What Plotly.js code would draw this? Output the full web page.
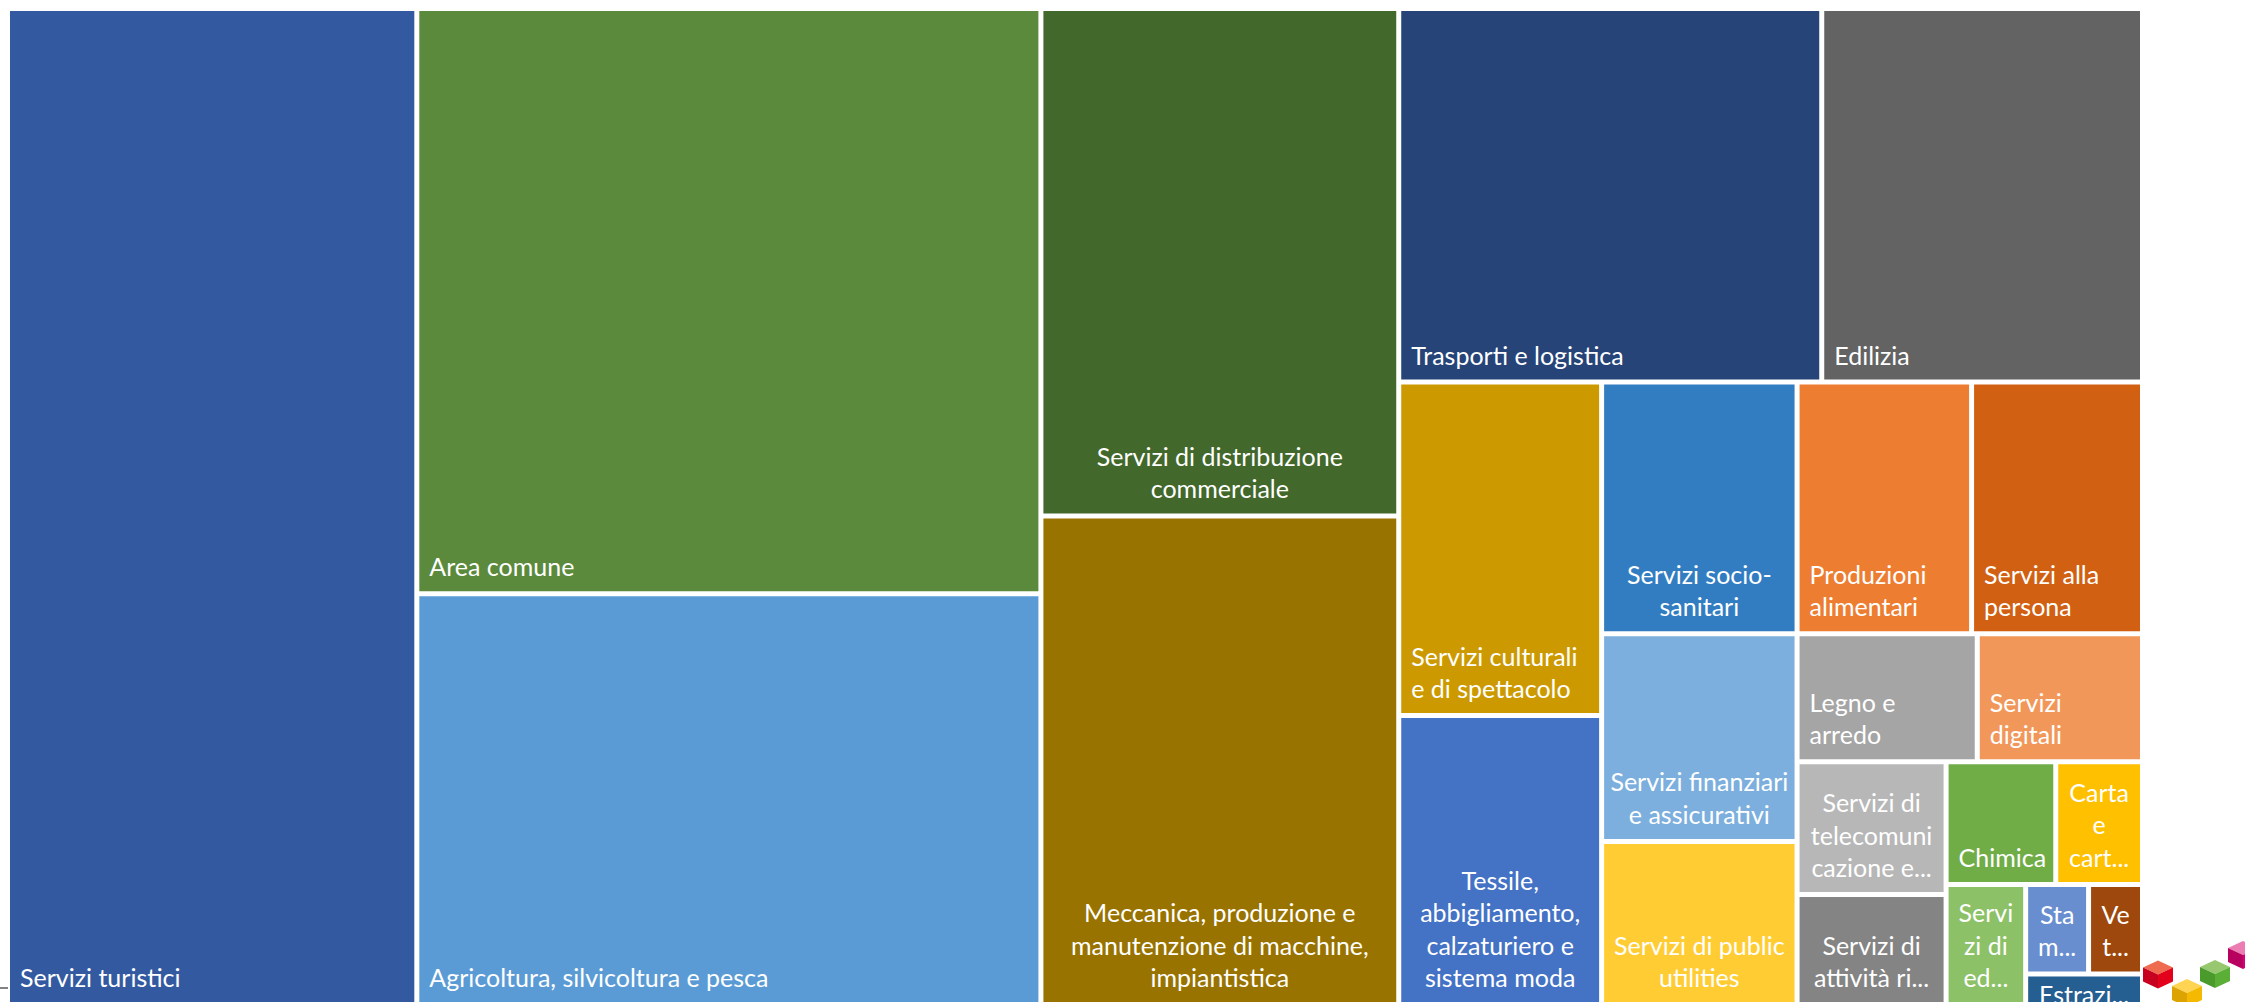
<!DOCTYPE html>
<html>
<head>
<meta charset="utf-8">
<script src="https://cdn.plot.ly/plotly-3.0.1.min.js"></script>
<style>html,body{margin:0;padding:0;background:#fff;overflow:hidden}</style>
</head>
<body>
<div id="chart" style="width:2245px;height:1002px"></div>
<script>
// ---- data: sectors (leaves) ----
const sectorIds = ['tur','area','agri','distr','mecc','trasp','edil','cult','tess','socio','fin','pub',
  'prod','pers','legno','dig','tele','att','chim','carta','ed','sta','ve','estr'];
const sectorLabels = [
  'Servizi turistici',
  'Area comune',
  'Agricoltura, silvicoltura e pesca',
  'Servizi di distribuzione<br>commerciale',
  'Meccanica, produzione e<br>manutenzione di macchine,<br>impiantistica',
  'Trasporti e logistica',
  'Edilizia',
  'Servizi culturali<br>e di spettacolo',
  'Tessile,<br>abbigliamento,<br>calzaturiero e<br>sistema moda',
  'Servizi socio-<br>sanitari',
  'Servizi finanziari<br>e assicurativi',
  'Servizi di public<br>utilities',
  'Produzioni<br>alimentari',
  'Servizi alla<br>persona',
  'Legno e<br>arredo',
  'Servizi<br>digitali',
  'Servizi di<br>telecomuni<br>cazione e...',
  'Servizi di<br>attività ri...',
  'Chimica',
  'Carta<br>e<br>cart...',
  'Servi<br>zi di<br>ed...',
  'Sta<br>m...',
  'Ve<br>t...',
  'Estrazi...'
];
const sectorValues = [405.5, 363.3, 255.0, 180.6, 173.9, 157.2, 119.2, 67.3, 58.3, 48.9, 40.4, 31.7,
  43.7, 42.8, 22.9, 21.0, 19.7, 16.3, 13.4, 10.6, 9.5, 5.6, 4.8, 3.55];
// grouping of the tiles (tiling structure of the original picture)
const sectorGroups = ['g1','g2','g2','g3','g3','g4a','g4a','g5','g5','g6','g6','g6',
  'g7a','g7a','g7b','g7b','g8','g8','g9a','g9a','g9c','g10a','g10a','g10b'];
const groupIds =     ['root','g1','g2','g3','g4','g4a','g4b','g5','g6','g7','g7a','g7b','g7c','g8','g9','g9a','g9b','g9c','g10','g10a','g10b'];
const groupParents = ['',    'root','root','root','root','g4','g4','g4b','g4b','g4b','g7','g7','g7','g7c','g7c','g9','g9','g9b','g9b','g10','g10'];

// ---- styles ----
const sectorColors = ['#335AA1','#5B8A3C','#5B9BD5','#43682B','#997300','#264478','#636363','#CC9A00',
  '#4472C4','#327DC2','#7CAFDD','#FFCD33','#ED7D31','#D26012','#A5A5A5','#F1975A','#B7B7B7','#848484',
  '#70AD47','#FFC000','#8CC168','#698ED0','#9E480E','#255E91'];
const centeredIds = ['distr','mecc','tess','socio','fin','pub','tele','att','carta','ed','sta','ve'];
const topIds = ['estr'];

const ids = groupIds.concat(sectorIds);
const parents = groupParents.concat(sectorGroups);
const labels = groupIds.map(g => ' ').concat(sectorLabels);
const values = groupIds.map(g => 0).concat(sectorValues);
const fill = groupIds.map(g => '#FFFFFF').concat(sectorColors);
const clear = ids.map(() => 'rgba(0,0,0,0)');
const textFor = test => groupIds.map(g => '').concat(sectorLabels.map((l, i) => test(sectorIds[i]) ? l : ''));
const leftText = textFor(id => !centeredIds.includes(id) && !topIds.includes(id));
const centerText = textFor(id => centeredIds.includes(id));
const topText = textFor(id => topIds.includes(id));

// page geometry (px): tile area and text offset
const PW = 2245, PH = 1002;
const tileBox = {x0: 10, x1: 2140, y0: 11, y1: 1002};
const dom = (dx, dy) => ({
  x: [(tileBox.x0 + dx) / PW, (tileBox.x1 + dx) / PW],
  y: [(PH - tileBox.y1 + dy) / PH, (PH - tileBox.y0 + dy) / PH]
});

const font = {family: 'Lato, "Open Sans", sans-serif', size: 25, color: '#FFFFFF'};
function tm(text, colors, pos, domain) {
  return {
    type: 'treemap', ids: ids, labels: labels, parents: parents, values: values,
    branchvalues: 'remainder', sort: false,
    text: text, textinfo: 'text', textposition: pos, textfont: font,
    marker: {colors: colors, line: {width: 0, color: '#FFFFFF'}, pad: {t: 0, l: 0, r: 0, b: 0}, depthfade: false},
    tiling: {packing: 'slice-dice', pad: 5},
    pathbar: {visible: false}, root: {color: 'rgba(0,0,0,0)'},
    hoverinfo: 'none', domain: domain
  };
}
const traces = [
  tm(topText, fill, 'top center', dom(0, 0)),
  tm(leftText, clear, 'bottom left', dom(7, 7)),
  tm(centerText, clear, 'bottom center', dom(0, 7))
];

// decorative logo cubes and small dash (pixel -> paper)
const X = px => px / PW, Y = py => (PH - py) / PH;
function poly(pts) { return 'M' + pts.map(p => X(p[0]).toFixed(5) + ',' + Y(p[1]).toFixed(5)).join(' L') + ' Z'; }
function cube(cx, cy, w, h, cTop, cLeft, cRight) {
  const Tp = [cx, cy - h], UR = [cx + w, cy - h / 2], LR = [cx + w, cy + h / 2], B = [cx, cy + h],
        LL = [cx - w, cy + h / 2], UL = [cx - w, cy - h / 2], C = [cx, cy];
  const mk = (pts, c) => ({type: 'path', xref: 'paper', yref: 'paper', path: poly(pts), fillcolor: c, line: {width: 0}});
  return [mk([Tp, UR, C, UL], cTop), mk([UL, C, B, LL], cLeft), mk([C, UR, LR, B], cRight)];
}
const shapes = [].concat(
  cube(2158, 974.5, 15, 14, '#EE6B50', '#C8001F', '#E2001A'),
  cube(2187, 993, 15, 14, '#FFD452', '#DDA300', '#F4B900'),
  cube(2215, 974, 15, 14, '#97C870', '#4A9A2C', '#5BAF37'),
  cube(2243, 955, 15, 14, '#EC7DB3', '#B8005F', '#D4007A'),
  [{type: 'line', xref: 'paper', yref: 'paper', x0: X(0), x1: X(8), y0: Y(988), y1: Y(988), line: {color: '#595959', width: 1.5}}]
);

const layout = {
  width: PW, height: PH,
  margin: {l: 0, r: 0, t: 0, b: 0, pad: 0},
  paper_bgcolor: '#FFFFFF',
  showlegend: false,
  uniformtext: {mode: 'show', minsize: 25},
  shapes: shapes
};
Plotly.newPlot('chart', traces, layout, {displayModeBar: false, staticPlot: true});
</script>
</body>
</html>
